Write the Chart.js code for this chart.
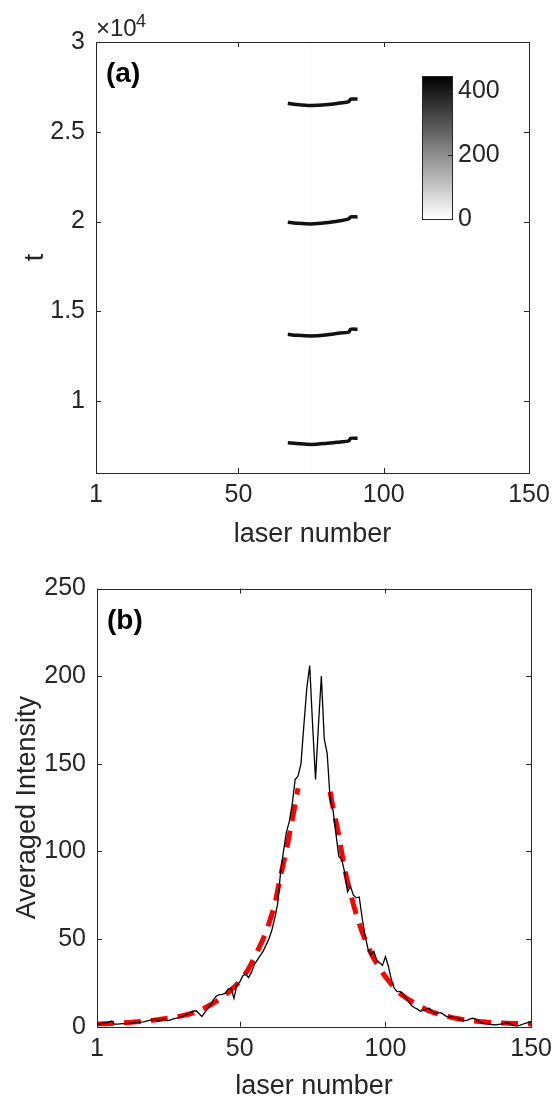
<!DOCTYPE html>
<html>
<head>
<meta charset="utf-8">
<script src="https://cdn.jsdelivr.net/npm/chart.js@4.4.0/dist/chart.umd.min.js"></script>
<style>
  body { margin: 0; background: #fff; width: 559px; height: 1104px; position: relative; overflow: hidden; }
  canvas { position: absolute; }
  #chartA { left: 0; top: 0; }
  #cbar { left: 412px; top: 55px; }
  #chartB { left: 0; top: 552px; }
</style>
</head>
<body>
<canvas id="chartA" width="559" height="552"></canvas>
<canvas id="cbar" width="140" height="185"></canvas>
<canvas id="chartB" width="559" height="552"></canvas>
<script>
// --- datos ---
const xTicks = [1, 50, 100, 150];
const tTicks = [10000, 15000, 20000, 25000, 30000];
const intensityTicks = [0, 50, 100, 150, 200, 250];
const cbarTicks = [0, 200, 400];
const cbarMax = 448;

// panel (a): bright bands, laser number vs t
const bandLaser = [67, 70, 75, 80, 85, 88, 88.6, 91];
const bandT1 = [7680, 7640, 7590, 7640, 7730, 7790, 7930, 7930];
const bandT2 = [13720, 13670, 13630, 13680, 13790, 13850, 14000, 14000];
const bandT3 = [19960, 19910, 19870, 19930, 20050, 20150, 20260, 20260];
const bandT4 = [26590, 26520, 26460, 26500, 26600, 26680, 26820, 26820];

// panel (b): averaged intensity per laser (1..150)
const intensity = [
  1.5, 1.5, 2, 2.2, 2.6, 3.3, 1.5, 1.5, 1.6, 1.7,
  1.8, 2, 2.1, 2.3, 2.4, 2.6, 2.8, 3.2, 3.6, 4,
  4.3, 3.3, 4, 4.2, 3.3, 3.8, 4.3, 4.8, 5.2, 5.7,
  6.4, 7.2, 7.8, 8.9, 9.1, 7.5, 5.8, 8.2, 10.5, 12.5,
  15.5, 17.5, 18.3, 18.5, 19, 21.5, 22, 16.2, 23.8, 25.5,
  29, 30, 28, 31, 35.5, 38, 40.5, 43, 46.5, 50,
  55, 62, 70, 88, 100, 111, 117, 127, 141, 143,
  150, 172, 193, 206, 172, 141, 172, 200, 164, 156,
  130, 123.5, 110, 97, 95.5, 88, 77, 80, 75, 73.5,
  74, 62, 52, 44.5, 41, 43, 38, 36.5, 35, 40,
  34.5, 27, 22, 20, 20, 19, 16.5, 14, 12, 10.8,
  10, 8.8, 9.3, 10, 10.5, 9, 7.5, 7.8, 8, 6.9,
  5.8, 5.6, 5.5, 5.2, 4.6, 4, 3.5, 3.6, 4.4, 4.8,
  4.3, 3.2, 2, 1.8, 1.6, 1.3, 1.1, 1, 1.3, 1.6,
  2, 2.3, 1.4, 0.6, 0.4, 0.8, 1.4, 1.9, 2.5, 2.9
];
const laser = intensity.map((v, i) => i + 1);

// ajuste (linea roja), hueco en el centro
const fitLaser = [1, 10, 20, 30, 35, 40, 45, 48, 50, 53, 56, 58, 60, 62, 64, 66, 68, 70,
                  75, 81, 82, 84, 86, 88, 90, 92, 95, 98, 100, 105, 110, 115, 120, 125, 130, 135, 140, 145, 150];
const fitValue = [1.5, 2.2, 3.6, 6.2, 8.5, 12.5, 18, 22.5, 26, 33, 43, 50, 59, 70, 86, 101, 118, 136,
                  null, 134, 125, 109, 90, 76, 64, 54, 42, 33.5, 28.5, 19, 13.5, 9, 6.5, 4.5, 3.3, 2.6, 2.1, 1.8, 1.6];

// --- estilos ---
const FONT = "'Liberation Sans', Arial, Helvetica, sans-serif";
const INK = '#262626';
const tickFont = { family: FONT, size: 25 };
const titleFont = { family: FONT, size: 27 };

const pts = (xs, ys) => xs.map((x, i) => ({ x: x, y: ys[i] }));
const setTicks = vals => s => { s.ticks = vals.map(v => ({ value: v })); };

// caja + marcas hacia dentro (estilo MATLAB)
const boxTicks = {
  id: 'boxTicks',
  afterDatasetsDraw(chart, args, opts) {
    const { ctx, chartArea: a, scales } = chart;
    const L = opts.len || 5;
    ctx.save();
    ctx.strokeStyle = INK;
    ctx.lineWidth = 1;
    ctx.strokeRect(Math.round(a.left) + 0.5, Math.round(a.top) + 0.5, Math.round(a.width), Math.round(a.height));
    ctx.beginPath();
    if (scales.x && scales.x.options.display !== false) {
      scales.x.ticks.forEach(t => {
        const px = Math.round(scales.x.getPixelForValue(t.value)) + 0.5;
        ctx.moveTo(px, a.bottom); ctx.lineTo(px, a.bottom - L);
        ctx.moveTo(px, a.top); ctx.lineTo(px, a.top + L);
      });
    }
    scales.y.ticks.forEach(t => {
      const py = Math.round(scales.y.getPixelForValue(t.value)) + 0.5;
      if (!opts.rightOnly) { ctx.moveTo(a.left, py); ctx.lineTo(a.left + L, py); }
      ctx.moveTo(a.right, py); ctx.lineTo(a.right - L, py);
    });
    ctx.stroke();
    ctx.restore();
  }
};

// textos sueltos: (a), (b), x10^4
const panelText = {
  id: 'panelText',
  afterDraw(chart, args, opts) {
    const ctx = chart.ctx;
    ctx.save();
    ctx.fillStyle = '#000';
    ctx.textBaseline = 'alphabetic';
    ctx.font = `bold 28px ${FONT}`;
    ctx.fillText(opts.label, chart.chartArea.left + 10, chart.chartArea.top + 40);
    if (opts.exponent) {
      ctx.fillStyle = INK;
      ctx.font = `24px ${FONT}`;
      ctx.fillText('\u00d710', chart.chartArea.left, chart.chartArea.top - 6);
      ctx.font = `18px ${FONT}`;
      ctx.fillText('4', chart.chartArea.left + 40, chart.chartArea.top - 15);
    }
    ctx.restore();
  }
};

function xAxis() {
  return {
    type: 'linear', min: 1, max: 150,
    afterBuildTicks: setTicks(xTicks),
    afterFit: s => { s.height = 79; },
    grid: { display: false, drawTicks: false },
    border: { display: false },
    ticks: { font: tickFont, color: INK, padding: 7, maxRotation: 0 },
    title: { display: true, text: 'laser number', font: titleFont, color: INK, padding: { top: 0, bottom: 1 } }
  };
}

// --- GRAFICO (a) ---
const bandStyle = { borderColor: '#111', borderWidth: 3.5, pointRadius: 0, tension: 0.3, fill: false };
new Chart(document.getElementById('chartA'), {
  type: 'line',
  data: {
    datasets: [
      { data: pts([75, 75], [6000, 30000]), borderColor: 'rgba(0,0,0,0.025)', borderWidth: 1.5, pointRadius: 0 },
      Object.assign({ data: pts(bandLaser, bandT1) }, bandStyle),
      Object.assign({ data: pts(bandLaser, bandT2) }, bandStyle),
      Object.assign({ data: pts(bandLaser, bandT3) }, bandStyle),
      Object.assign({ data: pts(bandLaser, bandT4) }, bandStyle)
    ]
  },
  options: {
    responsive: false,
    animation: false,
    layout: { padding: { left: 0, right: 30, top: 42, bottom: 0 } },
    plugins: { legend: { display: false }, tooltip: { enabled: false }, panelText: { label: '(a)', exponent: true } },
    scales: {
      x: xAxis(),
      y: {
        type: 'linear', min: 6000, max: 30000,
        afterBuildTicks: setTicks(tTicks),
        afterFit: s => { s.width = 96; },
        grid: { display: false, drawTicks: false },
        border: { display: false },
        ticks: { font: tickFont, color: INK, padding: 11, callback: v => String(v / 10000) },
        title: { display: true, text: 't', font: titleFont, color: INK, padding: { top: 19, bottom: 0 } }
      }
    }
  },
  plugins: [boxTicks, panelText]
});

// --- barra de color ---
new Chart(document.getElementById('cbar'), {
  type: 'bar',
  data: {
    labels: [''],
    datasets: [{
      data: [cbarMax],
      backgroundColor: c => {
        const a = c.chart.chartArea;
        if (!a) return '#888';
        const g = c.chart.ctx.createLinearGradient(0, a.bottom, 0, a.top);
        g.addColorStop(0, '#ffffff');
        g.addColorStop(1, '#000000');
        return g;
      },
      borderWidth: 0,
      barPercentage: 1,
      categoryPercentage: 1
    }]
  },
  options: {
    responsive: false,
    animation: false,
    layout: { padding: { left: 10, right: 0, top: 16, bottom: 17 } },
    plugins: { legend: { display: false }, tooltip: { enabled: false }, boxTicks: { rightOnly: true, len: 4 } },
    scales: {
      x: { display: false },
      y: {
        position: 'right', min: 0, max: cbarMax,
        afterBuildTicks: setTicks(cbarTicks),
        afterFit: s => { s.width = 100; },
        grid: { display: false, drawTicks: false },
        border: { display: false },
        ticks: { font: tickFont, color: INK, padding: 6 }
      }
    }
  },
  plugins: [boxTicks]
});

// --- GRAFICO (b) ---
new Chart(document.getElementById('chartB'), {
  type: 'line',
  data: {
    datasets: [
      { data: pts(laser, intensity), borderColor: '#000', borderWidth: 1.3, pointRadius: 0, tension: 0 },
      { data: pts(fitLaser, fitValue), borderColor: '#ff0000', borderWidth: 5, borderDash: [17, 10],
        pointRadius: 0, cubicInterpolationMode: 'monotone', spanGaps: false }
    ]
  },
  options: {
    responsive: false,
    animation: false,
    layout: { padding: { left: 0, right: 23, top: 36.5, bottom: 0 } },
    plugins: { legend: { display: false }, tooltip: { enabled: false }, panelText: { label: '(b)' } },
    scales: {
      x: Object.assign(xAxis(), { afterFit: s => { s.height = 77.3; } }),
      y: {
        type: 'linear', min: 0, max: 250,
        afterBuildTicks: setTicks(intensityTicks),
        afterFit: s => { s.width = 97; },
        grid: { display: false, drawTicks: false },
        border: { display: false },
        ticks: { font: tickFont, color: INK, padding: 11 },
        title: { display: true, text: 'Averaged Intensity', font: titleFont, color: INK, padding: { top: 11, bottom: 0 } }
      }
    }
  },
  plugins: [boxTicks, panelText]
});
</script>
</body>
</html>
